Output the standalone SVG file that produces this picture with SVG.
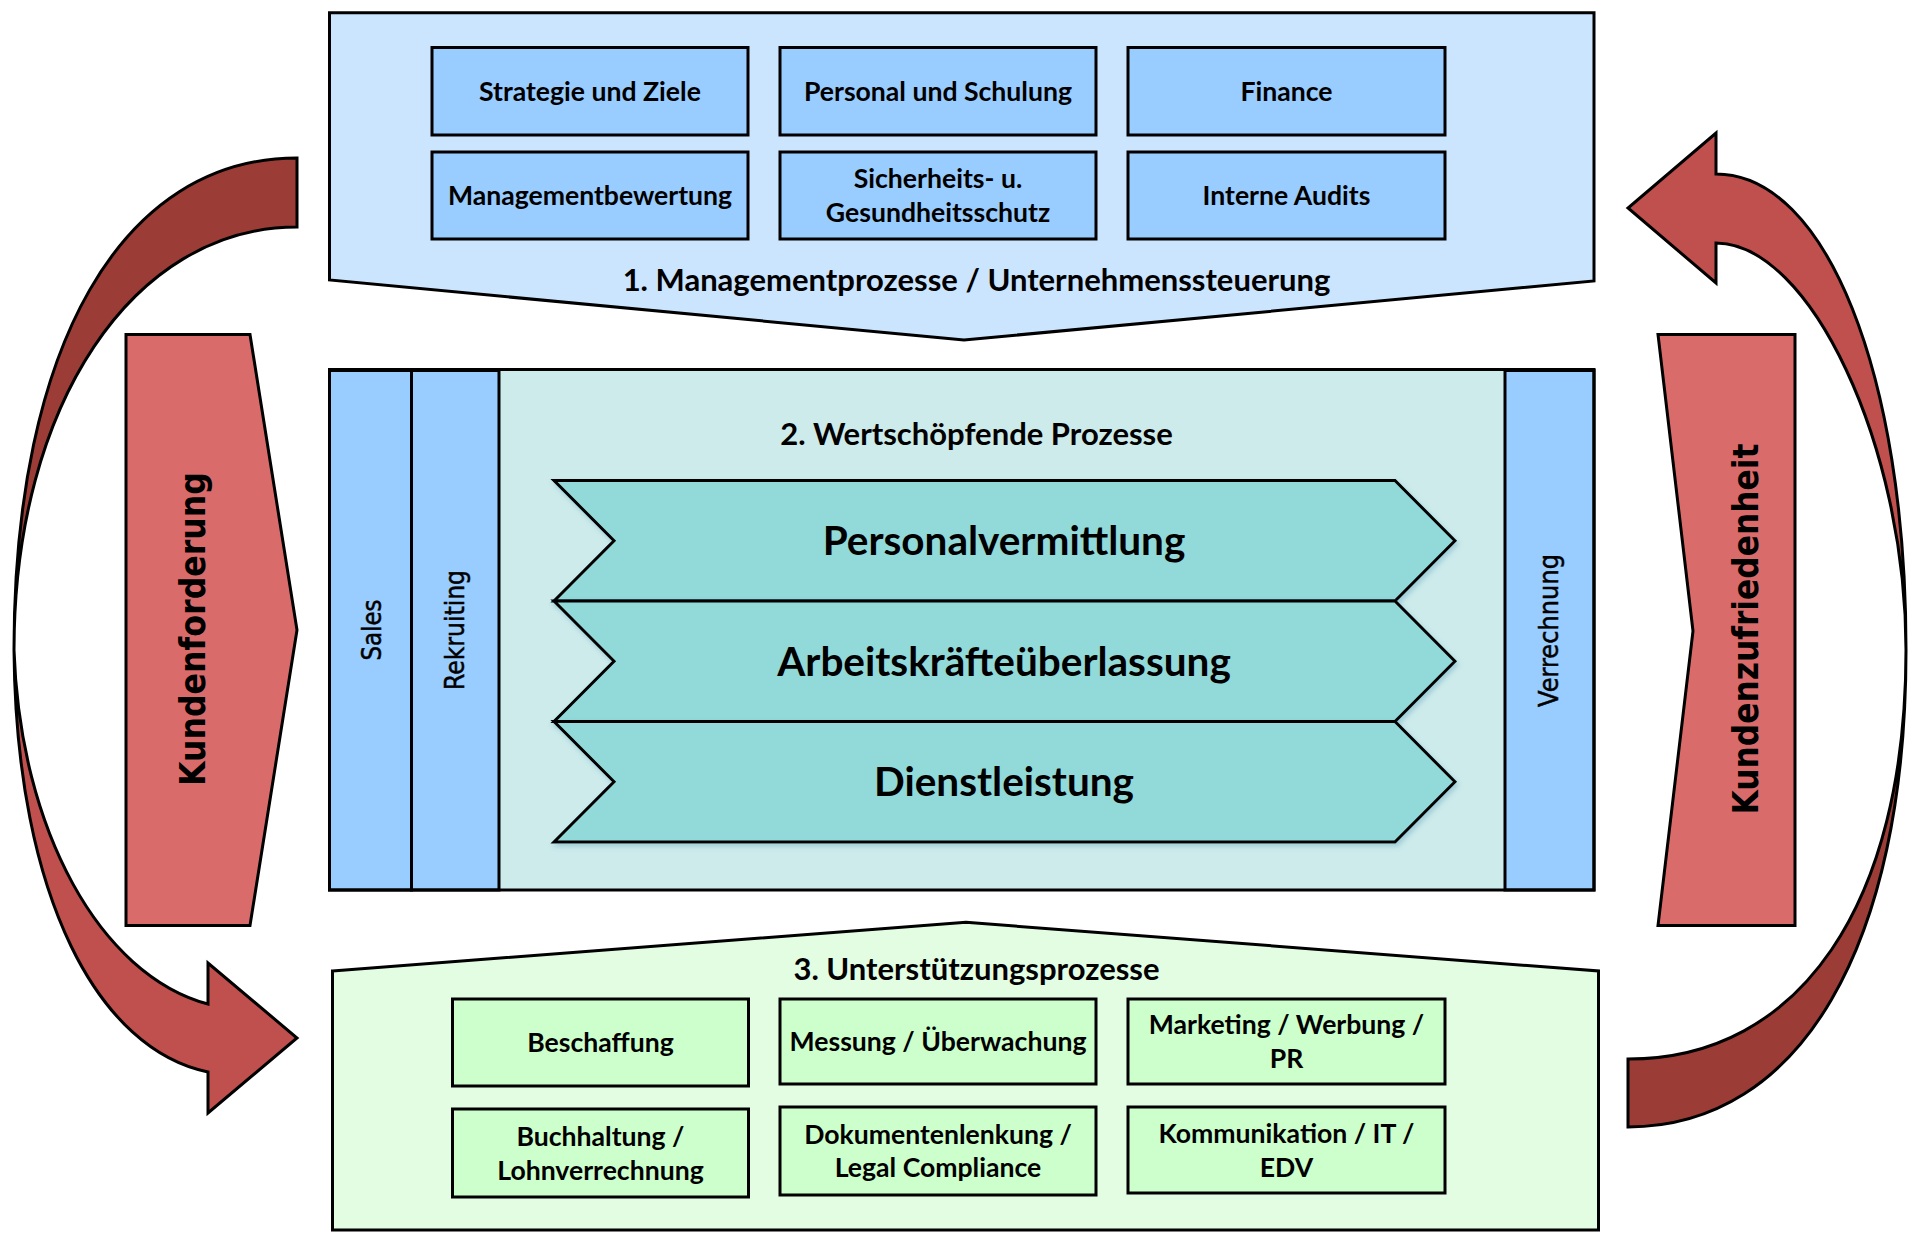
<svg xmlns="http://www.w3.org/2000/svg" width="1920" height="1244" viewBox="0 0 1920 1244">
<defs>
<style>
.ln{stroke:#000;stroke-width:3;stroke-linejoin:miter}
.mp{fill:#cce5ff}
.mb{fill:#99ccff}
.vp{fill:#cdebeb}
.chev{fill:#92d9d9}
.sp{fill:#e3fde3}
.sb{fill:#ccffcc}
.pink{fill:#da6b6b}
.dark{fill:#9b3d36}
.red{fill:#c0504d}
.t{font-family:Lato,"Open Sans",sans-serif;font-size:26.6px;font-weight:700;fill:#000;text-anchor:middle}
.tt{font-size:31px}
.ct{font-size:40.5px}
.v{font-family:"DejaVu Sans",Verdana,sans-serif;fill:#000;text-anchor:middle}
.vb{font-size:36px;font-weight:700}
.vs{font-size:26px;stroke:#000;stroke-width:0.5}
</style>
<filter id="sh" x="-5%" y="-20%" width="110%" height="150%">
<feDropShadow dx="2" dy="3" stdDeviation="2.5" flood-color="#4a90b0" flood-opacity="0.35"/>
</filter>
</defs>
<rect width="1920" height="1244" fill="#fff"/>

<g id="connectors">
<g id="arrow-left">
<path class="dark ln" d="M297,158 C122,158 14,345 14,650 C14,405 133,227 297,227 Z"/>
<path class="red ln" d="M14,650 C20,830 100,975 208,1004 L208,963 L297,1038 L208,1113 L208,1072 C100,1050 16,900 14,650 Z"/>
</g>
<g id="arrow-right">
<path class="red ln" d="M1716,174 L1716,133 L1628,208 L1716,283 L1716,243 C1810,243 1906,446 1906,650 C1906,374 1826,174 1716,174 Z"/>
<path class="dark ln" d="M1906,650 C1906,946 1800,1127 1628,1127 L1628,1059 C1800,1059 1906,904 1906,650 Z"/>
</g>
</g>

<g id="kundenforderung">
<path class="pink ln" d="M126,334.5 H250 L297,630 L250,925.5 H126 Z"/>
<text class="v vb" transform="translate(205,629) rotate(-90)" textLength="314" lengthAdjust="spacingAndGlyphs">Kundenforderung</text>
</g>

<g id="kundenzufriedenheit">
<path class="pink ln" d="M1658,334.5 H1795 V925.5 H1658 L1693,631 Z"/>
<text class="v vb" transform="translate(1758,629) rotate(-90)" textLength="371" lengthAdjust="spacingAndGlyphs">Kundenzufriedenheit</text>
</g>

<g id="management">
<path class="mp ln" d="M329.5,12.7 H1594 V281 L964,340 L329.5,280 Z"/>
<g id="strategie"><rect class="mb ln" x="432" y="47.5" width="316" height="87.5"/><text class="t" x="590" y="100.5">Strategie und Ziele</text></g>
<g id="personal"><rect class="mb ln" x="780" y="47.5" width="316" height="87.5"/><text class="t" x="938" y="100.5">Personal und Schulung</text></g>
<g id="finance"><rect class="mb ln" x="1128" y="47.5" width="317" height="87.5"/><text class="t" x="1286.5" y="100.5">Finance</text></g>
<g id="managementbewertung"><rect class="mb ln" x="432" y="152" width="316" height="87"/><text class="t" x="590" y="205">Managementbewertung</text></g>
<g id="sicherheit"><rect class="mb ln" x="780" y="152" width="316" height="87"/><text class="t" x="938" y="187.5">Sicherheits- u.</text><text class="t" x="938" y="221.5">Gesundheitsschutz</text></g>
<g id="audits"><rect class="mb ln" x="1128" y="152" width="317" height="87"/><text class="t" x="1286.5" y="205">Interne Audits</text></g>
<text class="t tt" x="976.5" y="291">1. Managementprozesse / Unternehmenssteuerung</text>
</g>

<g id="wertschoepfung">
<rect class="vp" x="329.5" y="369.5" width="1264.5" height="520.5"/>
<g id="sales"><rect class="mb ln" x="329.5" y="370.5" width="82" height="519.5"/><text class="v vs" transform="translate(381,630) rotate(-90)" textLength="61" lengthAdjust="spacingAndGlyphs">Sales</text></g>
<g id="rekruiting"><rect class="mb ln" x="411.5" y="370.5" width="87.5" height="519.5"/><text class="v vs" transform="translate(463.8,630) rotate(-90)" textLength="120" lengthAdjust="spacingAndGlyphs">Rekruiting</text></g>
<g id="verrechnung"><rect class="mb ln" x="1505" y="370.5" width="89" height="519.5"/><text class="v vs" transform="translate(1557.8,630.5) rotate(-90)" textLength="153" lengthAdjust="spacingAndGlyphs">Verrechnung</text></g>
<rect x="329.5" y="369.5" width="1264.5" height="520.5" fill="none" class="ln"/>
<text class="t tt" x="976.5" y="444.5">2. Wertschöpfende Prozesse</text>
<g id="personalvermittlung"><path class="chev ln" filter="url(#sh)" d="M554,480.5 H1395 L1455,540.75 L1395,601 H554 L614,540.75 Z"/><text class="t ct" x="1004" y="554.5">Personalvermittlung</text></g>
<g id="arbeitskraefte"><path class="chev ln" filter="url(#sh)" d="M554,601 H1395 L1455,661.25 L1395,721.5 H554 L614,661.25 Z"/><text class="t ct" x="1004" y="675.5">Arbeitskräfteüberlassung</text></g>
<g id="dienstleistung"><path class="chev ln" filter="url(#sh)" d="M554,721.5 H1395 L1455,781.75 L1395,842 H554 L614,781.75 Z"/><text class="t ct" x="1004" y="796">Dienstleistung</text></g>
</g>

<g id="unterstuetzung">
<path class="sp ln" d="M332.5,971 L966,922.3 L1598.5,971 V1230 H332.5 Z"/>
<text class="t tt" x="976.5" y="979.5">3. Unterstützungsprozesse</text>
<g id="beschaffung"><rect class="sb ln" x="452.5" y="999" width="296" height="87"/><text class="t" x="600.5" y="1052">Beschaffung</text></g>
<g id="messung"><rect class="sb ln" x="780" y="999" width="316" height="85"/><text class="t" x="938" y="1051">Messung / Überwachung</text></g>
<g id="marketing"><rect class="sb ln" x="1128" y="999" width="317" height="85"/><text class="t" x="1286.5" y="1034">Marketing / Werbung /</text><text class="t" x="1286.5" y="1067.5">PR</text></g>
<g id="buchhaltung"><rect class="sb ln" x="452.5" y="1109" width="296" height="88"/><text class="t" x="600.5" y="1145.5">Buchhaltung /</text><text class="t" x="600.5" y="1179.8">Lohnverrechnung</text></g>
<g id="dokumentenlenkung"><rect class="sb ln" x="780" y="1107" width="316" height="88"/><text class="t" x="938" y="1143.5">Dokumentenlenkung /</text><text class="t" x="938" y="1177.2">Legal Compliance</text></g>
<g id="kommunikation"><rect class="sb ln" x="1128" y="1107" width="317" height="86"/><text class="t" x="1286.5" y="1142.5">Kommunikation / IT /</text><text class="t" x="1286.5" y="1176.5">EDV</text></g>
</g>
</svg>
